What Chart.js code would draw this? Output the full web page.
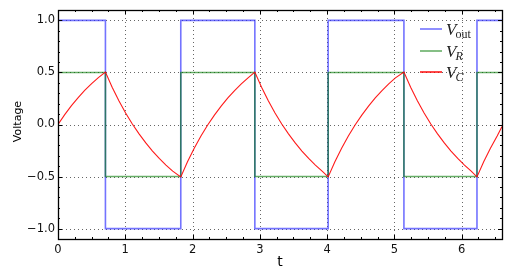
<!DOCTYPE html>
<html>
<head>
<meta charset="utf-8">
<script src="https://cdn.jsdelivr.net/npm/chart.js@4"></script>
<style>
  html, body { margin: 0; padding: 0; background: #fff; }
  #wrap { width: 512px; height: 278px; }
</style>
</head>
<body>
<div id="wrap"><canvas id="rcChart" width="512" height="278"></canvas></div>
<script>
// square wave V_out (switching times)
const tOut = [0, 0.705, 0.705, 1.825, 1.825, 2.926, 2.926, 4.016, 4.016, 5.142, 5.142, 6.228, 6.228, 6.6];
const vOut = [1, 1, -1, -1, 1, 1, -1, -1, 1, 1, -1, -1, 1, 1];

// V_R follows the same switching at +/-0.5
const tR = tOut;
const vR = [0.5, 0.5, -0.5, -0.5, 0.5, 0.5, -0.5, -0.5, 0.5, 0.5, -0.5, -0.5, 0.5, 0.5];

// V_C charging / discharging curves
const tC = [
  0, 0.1, 0.2, 0.3, 0.4, 0.5, 0.6, 0.705,
  0.805, 0.905, 1.005, 1.105, 1.205, 1.305, 1.405, 1.505, 1.605, 1.705, 1.825,
  1.925, 2.025, 2.125, 2.225, 2.325, 2.425, 2.525, 2.625, 2.725, 2.825, 2.926,
  3.026, 3.126, 3.226, 3.326, 3.426, 3.526, 3.626, 3.726, 3.826, 3.926, 4.016,
  4.116, 4.216, 4.316, 4.416, 4.516, 4.616, 4.716, 4.816, 4.916, 5.016, 5.142,
  5.242, 5.342, 5.442, 5.542, 5.642, 5.742, 5.842, 5.942, 6.042, 6.142, 6.228,
  6.328, 6.428, 6.528, 6.6
];
const vC = [
  0, 0.095, 0.181, 0.259, 0.330, 0.393, 0.451, 0.503,
  0.357, 0.228, 0.111, 0.005, -0.090, -0.177, -0.255, -0.326, -0.390, -0.448, -0.503,
  -0.357, -0.228, -0.111, -0.005, 0.090, 0.177, 0.255, 0.326, 0.390, 0.448, 0.503,
  0.357, 0.228, 0.111, 0.005, -0.090, -0.177, -0.255, -0.326, -0.390, -0.448, -0.503,
  -0.357, -0.228, -0.111, -0.005, 0.090, 0.177, 0.255, 0.326, 0.390, 0.448, 0.503,
  0.357, 0.228, 0.111, 0.005, -0.090, -0.177, -0.255, -0.326, -0.390, -0.448, -0.503,
  -0.357, -0.228, -0.111, -0.020
];

const xTicks = [0, 1, 2, 3, 4, 5, 6];
const yTicks = [-1.0, -0.5, 0.0, 0.5, 1.0];

const blue = 'rgba(40,40,255,0.65)';
const green = 'rgba(0,120,0,0.6)';
const red = 'rgba(255,0,0,0.9)';

const toPts = (xs, ys) => xs.map((x, i) => ({ x: x, y: ys[i] }));
const fmt = v => (v < -1e-9 ? '\u2212' : '') + Math.abs(v).toFixed(1);

const legendItems = [
  { main: 'V', sub: 'out', subItalic: false, color: blue },
  { main: 'V', sub: 'R', subItalic: true, color: green },
  { main: 'V', sub: 'C', subItalic: true, color: red }
];

// grid, frame, inward ticks, axis titles and legend (matplotlib look)
const framePlugin = {
  id: 'frame',
  beforeDatasetsDraw(chart) {
    const { ctx, chartArea: a, scales: { x, y } } = chart;
    ctx.save();
    ctx.strokeStyle = 'rgba(0,0,0,0.6)';
    ctx.lineWidth = 1;
    ctx.setLineDash([1, 3]);
    xTicks.forEach(v => {
      const px = Math.round(x.getPixelForValue(v)) + 0.5;
      ctx.beginPath(); ctx.moveTo(px, a.top); ctx.lineTo(px, a.bottom); ctx.stroke();
    });
    yTicks.forEach(v => {
      const py = Math.round(y.getPixelForValue(v)) + 0.5;
      ctx.beginPath(); ctx.moveTo(a.left, py); ctx.lineTo(a.right, py); ctx.stroke();
    });
    ctx.restore();
  },
  afterDatasetsDraw(chart) {
    const { ctx, chartArea: a, scales: { x, y } } = chart;
    ctx.save();
    ctx.strokeStyle = '#000';
    ctx.lineWidth = 1;
    ctx.setLineDash([]);
    // minor + major ticks on all four sides
    for (let v = 0; v <= 6.6 + 1e-9; v += 0.25) {
      const px = Math.round(x.getPixelForValue(v)) + 0.5;
      const major = Math.abs(v - Math.round(v)) < 1e-9;
      const len = major ? 4 : 2;
      ctx.beginPath();
      ctx.moveTo(px, a.bottom); ctx.lineTo(px, a.bottom - len);
      ctx.moveTo(px, a.top); ctx.lineTo(px, a.top + len);
      ctx.stroke();
    }
    for (let i = -11; i <= 11; i++) {
      const v = i / 10;
      const py = Math.round(y.getPixelForValue(v)) + 0.5;
      const len = (i % 5 === 0) ? 4 : 2;
      ctx.beginPath();
      ctx.moveTo(a.left, py); ctx.lineTo(a.left + len, py);
      ctx.moveTo(a.right, py); ctx.lineTo(a.right - len, py);
      ctx.stroke();
    }
    ctx.lineWidth = 1.3;
    ctx.strokeRect(Math.round(a.left) + 0.5, Math.round(a.top) + 0.5,
      Math.round(a.right - a.left), Math.round(a.bottom - a.top));

    // axis titles
    ctx.fillStyle = '#000';
    ctx.textAlign = 'center';
    ctx.textBaseline = 'middle';
    ctx.font = '14px "DejaVu Sans"';
    ctx.fillText('t', (a.left + a.right) / 2, 262);
    ctx.save();
    ctx.translate(18, (a.top + a.bottom) / 2 - 3);
    ctx.rotate(-Math.PI / 2);
    ctx.font = '11px "DejaVu Sans"';
    ctx.fillText('Voltage', 0, 0);
    ctx.restore();

    // legend
    ctx.textAlign = 'left';
    ctx.textBaseline = 'alphabetic';
    const rowsY = [29, 51, 72];
    legendItems.forEach((it, i) => {
      const ly = rowsY[i];
      ctx.strokeStyle = it.color;
      ctx.lineWidth = 1.6;
      ctx.beginPath(); ctx.moveTo(420, ly); ctx.lineTo(442, ly); ctx.stroke();
      ctx.fillStyle = '#222';
      ctx.font = 'italic 17px "Liberation Serif"';
      ctx.fillText(it.main, 446, ly + 6);
      const w = ctx.measureText(it.main).width;
      ctx.font = (it.subItalic ? 'italic ' : '') + '12px "Liberation Serif"';
      ctx.fillText(it.sub, 446 + w - 1, ly + 9);
    });
    ctx.restore();
  }
};

new Chart(document.getElementById('rcChart').getContext('2d'), {
  type: 'line',
  data: {
    datasets: [
      { label: 'V_out', data: toPts(tOut, vOut), borderColor: blue, borderWidth: 1.6, order: 3 },
      { label: 'V_R', data: toPts(tR, vR), borderColor: green, borderWidth: 1.6, order: 2 },
      { label: 'V_C', data: toPts(tC, vC), borderColor: red, borderWidth: 1.1, order: 1 }
    ]
  },
  options: {
    responsive: false,
    animation: false,
    events: [],
    elements: { point: { radius: 0 }, line: { tension: 0 } },
    layout: { padding: { top: 10, right: 10, left: 0, bottom: 0 } },
    plugins: { legend: { display: false }, tooltip: { enabled: false } },
    scales: {
      x: {
        type: 'linear', min: 0, max: 6.6,
        grid: { display: false, drawTicks: false }, border: { display: false },
        ticks: { stepSize: 1, includeBounds: false, padding: 4, maxRotation: 0,
          color: '#111', font: { family: 'DejaVu Sans', size: 11.5 } },
        afterFit(s) { s.height = 39; }
      },
      y: {
        type: 'linear', min: -1.1, max: 1.1,
        grid: { display: false, drawTicks: false }, border: { display: false },
        ticks: { stepSize: 0.5, includeBounds: false, padding: 3,
          color: '#111', font: { family: 'DejaVu Sans', size: 11.5 },
          callback: v => fmt(v) },
        afterFit(s) { s.width = 58; }
      }
    }
  },
  plugins: [framePlugin]
});
</script>
</body>
</html>
